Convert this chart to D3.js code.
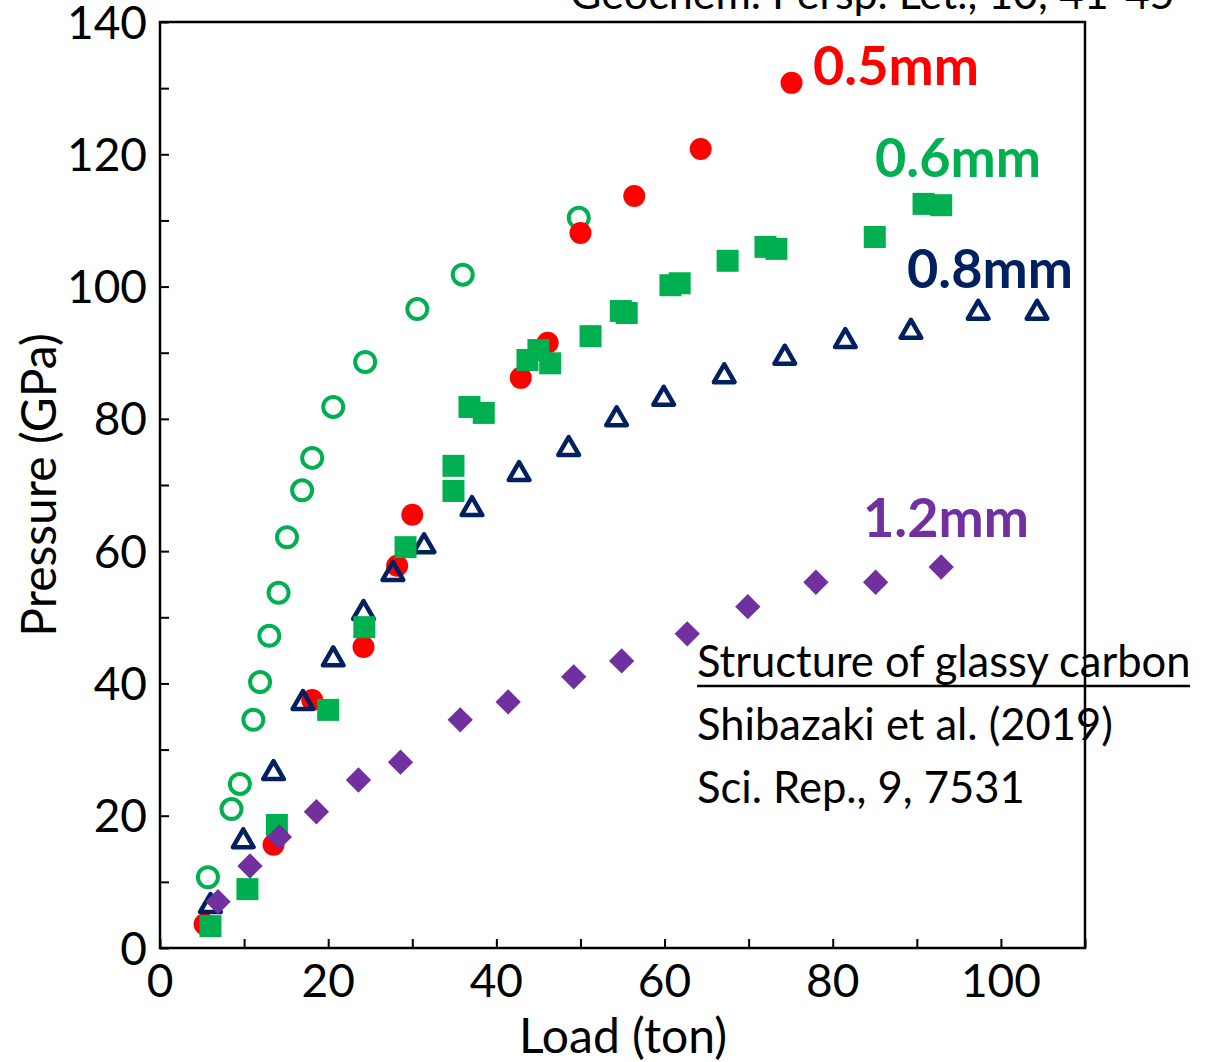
<!DOCTYPE html>
<html>
<head>
<meta charset="utf-8">
<script src="https://cdn.jsdelivr.net/npm/d3@7"></script>
<style>
  body { margin: 0; background: #fff; }
  svg text { font-family: Lato, "Open Sans", sans-serif; }
</style>
</head>
<body>
<svg id="chart" width="1209" height="1062"></svg>
<script>
// load (ton) vs pressure (GPa)
const red05 = [[5.3,3.6],[13.5,15.6],[18.1,37.5],[24.2,45.5],[28.2,57.8],[30.0,65.5],[42.9,86.2],[46.1,91.5],[50.0,108.1],[56.4,113.7],[64.3,120.8],[75.1,130.8]];
const greenOpen = [[5.7,10.7],[8.5,21.0],[9.5,24.8],[11.1,34.5],[11.9,40.2],[13.0,47.2],[14.1,53.7],[15.1,62.1],[16.9,69.2],[18.1,74.1],[20.6,81.8],[24.4,88.6],[30.6,96.6],[36.0,101.8],[49.8,110.4]];
const green06 = [[6.0,3.3],[10.4,8.9],[13.9,18.6],[20.0,36.0],[24.3,48.5],[29.2,60.6],[34.9,69.1],[34.9,72.9],[36.8,81.8],[38.5,80.9],[43.7,88.9],[45.0,90.4],[46.4,88.4],[51.2,92.5],[54.8,96.3],[55.5,96.0],[60.7,100.2],[61.8,100.5],[67.5,103.9],[72.0,106.0],[73.3,105.7],[85.0,107.5],[90.8,112.5],[92.9,112.3]];
const navy08 = [[6.0,6.5],[9.9,16.3],[13.5,26.6],[17.0,37.2],[20.6,43.8],[24.2,50.8],[27.7,56.7],[31.4,60.9],[37.1,66.5],[42.7,71.8],[48.6,75.6],[54.3,80.1],[59.9,83.2],[67.1,86.6],[74.3,89.4],[81.5,91.9],[89.3,93.3],[97.3,96.2],[104.3,96.2]];
const purple12 = [[6.9,7.0],[10.7,12.4],[14.2,16.8],[18.6,20.6],[23.6,25.4],[28.6,28.1],[35.7,34.5],[41.4,37.2],[49.2,41.0],[54.9,43.4],[62.7,47.5],[69.9,51.6],[78.0,55.3],[85.1,55.3],[92.9,57.6]];

const xTicks = [0,20,40,60,80,100];
const yTicks = [0,20,40,60,80,100,120,140];
const seriesLabels = [
  {text:"0.5mm", color:"#FF0000", x:813, y:85},
  {text:"0.6mm", color:"#00B050", x:875, y:177},
  {text:"0.8mm", color:"#002060", x:907, y:288},
  {text:"1.2mm", color:"#7030A0", x:863, y:537}
];
const noteLines = ["Structure of glassy carbon","Shibazaki et al. (2019)","Sci. Rep., 9, 7531"];

const svg = d3.select("#chart");
const pLeft = 160, pRight = 1085, pTop = 22, pBottom = 948;

let x = d3.scaleLinear().domain([0,110]).range([pLeft,pRight]);
let y = d3.scaleLinear().domain([0,140]).range([pBottom,pTop]);

// reference cut off at the top
svg.append("text")
  .attr("x", 570).attr("y", 9)
  .style("font-size","43px")
  .text("Geochem. Persp. Let., 10, 41-45");

// markers
let g = svg.append("g");

g.selectAll(".oc").data(greenOpen).enter()
  .append("circle")
  .attr("cx", d => x(d[0])).attr("cy", d => y(d[1]))
  .attr("r", 10)
  .attr("fill","none").attr("stroke","#00B050").attr("stroke-width",4);

g.selectAll(".rc").data(red05).enter()
  .append("circle")
  .attr("cx", d => x(d[0])).attr("cy", d => y(d[1]))
  .attr("r", 11)
  .attr("fill","#FF0000");

let tri = d3.symbol().type(d3.symbolTriangle).size(185);
g.selectAll(".tr").data(navy08).enter()
  .append("path")
  .attr("d", tri)
  .attr("transform", d => "translate("+x(d[0])+","+(y(d[1])+1)+")")
  .attr("fill","none").attr("stroke","#002060").attr("stroke-width",4.5)
  .attr("stroke-linejoin","round");

g.selectAll(".sq").data(green06).enter()
  .append("rect")
  .attr("x", d => x(d[0])-11).attr("y", d => y(d[1])-11)
  .attr("width",22).attr("height",22)
  .attr("fill","#00B050");

let dia = d3.symbol().type(d3.symbolSquare).size(320);
g.selectAll(".dm").data(purple12).enter()
  .append("path")
  .attr("d", dia)
  .attr("transform", d => "translate("+x(d[0])+","+y(d[1])+") rotate(45)")
  .attr("fill","#7030A0");

// series labels
svg.selectAll(".lab").data(seriesLabels).enter()
  .append("text")
  .attr("x", d => d.x).attr("y", d => d.y)
  .attr("fill", d => d.color)
  .style("font-size","54px").style("font-weight","bold")
  .text(d => d.text);

// note
let note = svg.append("g");
noteLines.forEach(function(t,i){
  note.append("text")
    .attr("x",697).attr("y",677+i*63)
    .style("font-size","43.5px")
    .text(t);
});
note.append("line")
  .attr("x1",697).attr("x2",1190).attr("y1",686).attr("y2",686)
  .attr("stroke","#000").attr("stroke-width",2.5);

// axes with inward ticks
let xAxis = d3.axisBottom(x).tickValues(d3.range(0,111,10)).tickSize(-9).tickFormat("");
let yAxis = d3.axisLeft(y).tickValues(d3.range(0,141,10)).tickSize(-9).tickFormat("");
let xa = svg.append("g").attr("transform","translate(0,"+pBottom+")").call(xAxis);
let ya = svg.append("g").attr("transform","translate("+pLeft+",0)").call(yAxis);
xa.select(".domain").remove();
ya.select(".domain").remove();
svg.selectAll(".tick line").attr("stroke","#000").attr("stroke-width",2);

svg.append("rect")
  .attr("x",pLeft).attr("y",pTop)
  .attr("width",pRight-pLeft).attr("height",pBottom-pTop)
  .attr("fill","none").attr("stroke","#000").attr("stroke-width",2.5);

// tick labels
svg.selectAll(".xl").data(xTicks).enter()
  .append("text")
  .attr("x", d => x(d)).attr("y", 997)
  .attr("text-anchor","middle")
  .style("font-size","46px")
  .text(d => d);
svg.selectAll(".yl").data(yTicks).enter()
  .append("text")
  .attr("x", 147).attr("y", d => y(d))
  .attr("dy","0.36em")
  .attr("text-anchor","end")
  .style("font-size","46px")
  .text(d => d);

// axis titles
svg.append("text")
  .attr("x", 623).attr("y", 1053)
  .attr("text-anchor","middle")
  .style("font-size","48px")
  .text("Load (ton)");
svg.append("text")
  .attr("transform","translate(56,485) rotate(-90)")
  .attr("text-anchor","middle")
  .style("font-size","48px")
  .text("Pressure (GPa)");
</script>
</body>
</html>
